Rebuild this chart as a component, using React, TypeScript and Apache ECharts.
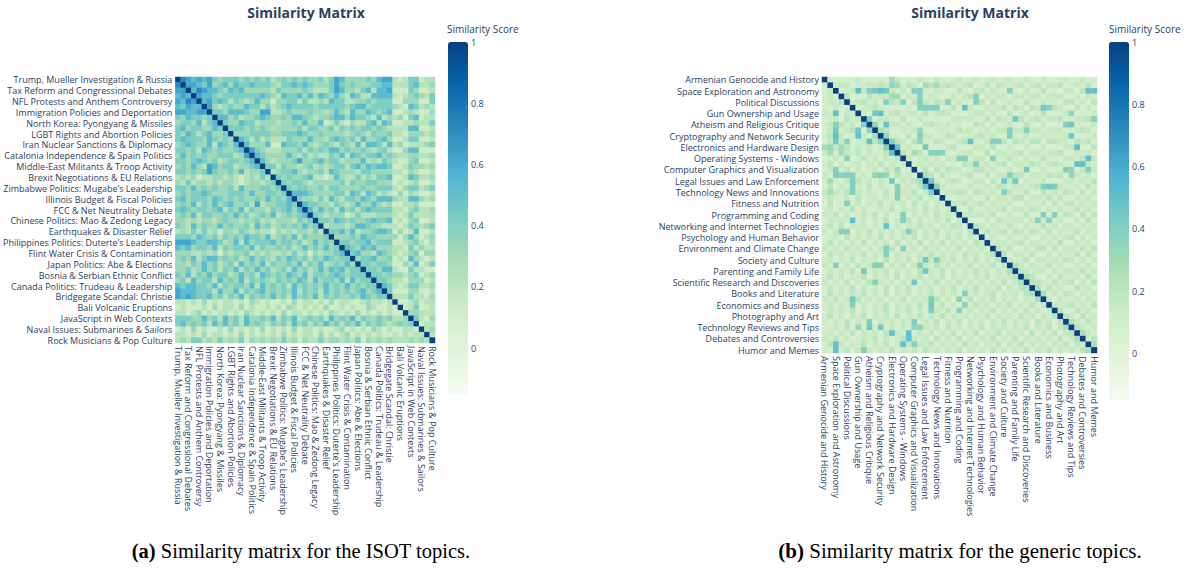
import React, { useEffect, useRef } from "react";
import * as echarts from "echarts";

// Labelled (even-index) topics; odd-index topics have hidden labels in the reference.
const isotShown = [
  "Trump, Mueller Investigation & Russia",
  "Tax Reform and Congressional Debates",
  "NFL Protests and Anthem Controversy",
  "Immigration Policies and Deportation",
  "North Korea: Pyongyang & Missiles",
  "LGBT Rights and Abortion Policies",
  "Iran Nuclear Sanctions & Diplomacy",
  "Catalonia Independence & Spain Politics",
  "Middle-East Militants & Troop Activity",
  "Brexit Negotiations & EU Relations",
  "Zimbabwe Politics: Mugabe\u2019s Leadership",
  "Illinois Budget & Fiscal Policies",
  "FCC & Net Neutrality Debate",
  "Chinese Politics: Mao & Zedong Legacy",
  "Earthquakes & Disaster Relief",
  "Philippines Politics: Duterte\u2019s Leadership",
  "Flint Water Crisis & Contamination",
  "Japan Politics: Abe & Elections",
  "Bosnia & Serbian Ethnic Conflict",
  "Canada Politics: Trudeau & Leadership",
  "Bridgegate Scandal: Christie",
  "Bali Volcanic Eruptions",
  "JavaScript in Web Contexts",
  "Naval Issues: Submarines & Sailors",
  "Rock Musicians & Pop Culture",
];
const genericShown = [
  "Armenian Genocide and History",
  "Space Exploration and Astronomy",
  "Political Discussions",
  "Gun Ownership and Usage",
  "Atheism and Religious Critique",
  "Cryptography and Network Security",
  "Electronics and Hardware Design",
  "Operating Systems - Windows",
  "Computer Graphics and Visualization",
  "Legal Issues and Law Enforcement",
  "Technology News and Innovations",
  "Fitness and Nutrition",
  "Programming and Coding",
  "Networking and Internet Technologies",
  "Psychology and Human Behavior",
  "Environment and Climate Change",
  "Society and Culture",
  "Parenting and Family Life",
  "Scientific Research and Discoveries",
  "Books and Literature",
  "Economics and Business",
  "Photography and Art",
  "Technology Reviews and Tips",
  "Debates and Controversies",
  "Humor and Memes",
];

// Lower triangle of the ISOT similarity matrix, row k+1; value = digit * 0.1 - 0.08
const isotRows = [
  "8",
  "77",
  "676",
  "7687",
  "65766",
  "776677",
  "5465545",
  "45546356",
  "564554465",
  "5465356445",
  "5655546545 4",
  "4565446365 46",
  "5545365454 456",
  "4645454455 5347",
  "5545654534 55456",
  "4546437645 534456",
  "5545457544 5463445",
  "3434233443 43234353",
  "4353443434 432344345",
  "5546454544 5364445545",
  "4545565444 5554644554 5",
  "5645554654 5454454645 46",
  "4546354645 6445373445 565",
  "5654554563 5463544354 5646",
  "4546355445 4645345463 45456",
  "4434344345 4434453434 443545",
  "5436454464 5445364534 5454645",
  "3435353424 4354343324 34344353",
  "5554654535 4546554634 546354445",
  "7776556653 4636455564 5545346454",
  "6564554635 4554635445 4534645464 5",
  "4443343424 3445343433 4353424344 56",
  "4546356645 4534645435 4654535465 455",
  "4435464534 5364546354 4546354634 5464",
  "4453464535 4635464534 5364534646 56455",
  "5463546455 3464536545 4654635545 654555",
  "4536455364 5463545435 4546536455 4636455",
  "6566554635 4554636454 5364545464 54645455",
  "7666555364 4635456454 5463545364 545456456",
  "7676556453 5463545464 5364546354 5445465455",
  "3323242323 3232432322 3242332324 2332234332 3",
  "2322232423 3242322323 2432323242 2323224322 32",
  "3323423233 2324323232 4233232324 3232423232 322",
  "5554464536 4536445463 5463454536 4546354454 5334",
  "5645453646 4536454354 5364535464 5354635454 34545",
  "2324232232 4232324232 3242332322 3423232432 322332",
  "3323242332 3242323232 4232332423 2342323232 2323233",
  "3435534353 4352434343 5342433534 4343524343 43334343",
];

// Lower triangle of the generic-topics similarity matrix, row k+1; value = digit * 0.05 - 0.04
const genericRows = [
  "3",
  "24",
  "342",
  "2435",
  "32423",
  "435243",
  "2342534",
  "34253426",
  "242345326",
  "3524232436",
  "2434523425 5",
  "3243524342 36",
  "4232435242 354",
  "2342423534 2435",
  "3524234243 52434",
  "2433524234 253423",
  "4242353424 3425342",
  "3432425342 43524356",
  "2524343252 432434257",
  "4243524343 2523435246",
  "3432425234 3425243524 3",
  "2523434243 5243425342 43",
  "3424352423 4352434253 424",
  "4352423435 2423524342 5343",
  "2434352424 3524352423 43524",
  "3525243424 3524243534 243542",
  "4243524352 4342435243 5243425",
  "2342524343 5242435243 42534243",
  "3524243524 3425243524 352434253",
  "4243534242 4352434253 4243524343",
  "2534243524 3524342435 2434253424 5",
  "3424352434 2524352434 2435243524 35",
  "4352425343 4243524342 5342435243 524",
  "2434352424 3524342524 3524243534 2436",
  "3524243524 3425243524 3524342435 24345",
  "4243524352 4342435243 5243524342 435246",
  "3424352434 2524352434 2435243524 3524355",
  "2534243524 3524342435 2434253424 52434256",
  "4352425343 4243524342 5342435243 524342436",
  "3424352424 3524342524 3524243534 2435243524",
  "2434352424 3524352423 4352434243 5243425342 4",
  "3524243524 3425243524 3524342435 2434253424 35",
  "4243524352 4342435243 5243524342 4352434253 425",
  "2342524343 5242435243 4253424352 4342435243 5246",
  "3424352434 2524352434 2435243524 3524342524 35245",
  "4352423435 2423524342 5343524243 5243524342 435246",
  "2534243524 3524342435 2434253424 3524352434 2435243",
  "3243524342 4352434253 4243524342 5342435243 52434256",
];

// Distinct higher similarities in the generic matrix: [row, col, value]
const genericPeaks: [number, number, number][] = [
  [6, 2, 0.5], [8, 2, 0.4], [8, 7, 0.4], [9, 2, 0.45], [9, 6, 0.45], [9, 8, 0.35],
  [10, 2, 0.5], [10, 6, 0.5], [11, 2, 0.45], [11, 4, 0.4], [11, 8, 0.5], [11, 10, 0.35],
  [12, 0, 0.3], [12, 1, 0.35], [12, 3, 0.3], [12, 11, 0.4], [13, 1, 0.3], [13, 3, 0.3],
  [13, 12, 0.5], [14, 4, 0.4], [16, 2, 0.4], [16, 13, 0.3], [17, 2, 0.4], [17, 3, 0.4],
  [17, 4, 0.4], [17, 5, 0.4], [17, 9, 0.35], [17, 10, 0.4], [17, 11, 0.35], [18, 1, 0.3],
  [18, 5, 0.4], [18, 12, 0.45], [19, 5, 0.4], [19, 13, 0.4], [19, 18, 0.45], [20, 1, 0.3],
  [20, 5, 0.4], [20, 13, 0.4], [20, 19, 0.4], [21, 13, 0.4], [22, 4, 0.4], [24, 14, 0.4],
  [25, 5, 0.5], [25, 14, 0.4], [26, 11, 0.5], [27, 3, 0.4], [27, 4, 0.4], [27, 15, 0.4],
  [30, 11, 0.4], [30, 14, 0.4], [31, 11, 0.4], [32, 18, 0.45], [32, 20, 0.4], [33, 2, 0.4],
  [33, 9, 0.4], [33, 10, 0.4], [33, 17, 0.4], [34, 7, 0.45], [34, 18, 0.45], [36, 9, 0.4],
  [36, 16, 0.45], [38, 25, 0.4], [39, 5, 0.45], [39, 19, 0.4], [39, 24, 0.4], [40, 5, 0.4],
  [40, 19, 0.45], [40, 25, 0.4], [41, 19, 0.4], [41, 24, 0.4], [43, 8, 0.4], [43, 16, 0.4],
  [44, 6, 0.35], [44, 8, 0.45], [44, 10, 0.45], [44, 16, 0.35], [44, 17, 0.35], [45, 12, 0.5],
  [45, 15, 0.5], [46, 15, 0.5], [47, 14, 0.5], [47, 2, 0.5], [47, 16, 0.4], [48, 2, 0.5],
  [48, 7, 0.4],
];

const colorTicks = [0, 0.2, 0.4, 0.6, 0.8, 1];
const scoreMin = -0.15;
const scoreMax = 1;
const GNBU = ["#f7fcf0", "#e0f3db", "#ccebc5", "#a8ddb5", "#7bccc4", "#4eb3d3", "#2b8cbe", "#0868ac", "#084081"];

const FONT = '"Open Sans", verdana, arial, sans-serif';
const SERIF = '"Liberation Serif", "DejaVu Serif", serif';
const INK = "#2a3f5f";

function interleave(shown: string[], prefix: string): string[] {
  const out: string[] = [];
  shown.forEach((t, k) => {
    out.push(t);
    if (k < shown.length - 1) out.push(`${prefix} ${2 * k + 1}`);
  });
  return out;
}

function buildData(rows: string[], unit: number, offset: number, peaks: [number, number, number][]) {
  const n = rows.length + 1;
  const m: number[][] = Array.from({ length: n }, () => new Array(n).fill(0));
  for (let i = 0; i < n; i++) m[i][i] = 1;
  rows.forEach((r, k) => {
    const s = r.replace(/\s+/g, "");
    const i = k + 1;
    for (let j = 0; j < i && j < s.length; j++) {
      const v = Math.round((Number(s[j]) * unit + offset) * 1000) / 1000;
      m[i][j] = v;
      m[j][i] = v;
    }
  });
  peaks.forEach(([i, j, v]) => {
    m[i][j] = v;
    m[j][i] = v;
  });
  const data: [number, number, number][] = [];
  for (let i = 0; i < n; i++) for (let j = 0; j < n; j++) data.push([j, i, m[i][j]]);
  return data;
}

function catAxis(names: string[], gridIndex: number, isY: boolean) {
  return {
    type: "category",
    gridIndex,
    data: names,
    inverse: isY,
    axisLine: { show: false },
    axisTick: { show: false },
    splitLine: { show: false },
    axisLabel: {
      interval: 1,
      rotate: isY ? 0 : -90,
      fontSize: 9,
      color: INK,
      fontFamily: FONT,
      margin: 3,
    },
  };
}

function barAxis(gridIndex: number) {
  return {
    type: "value",
    gridIndex,
    position: "right",
    min: scoreMin,
    max: scoreMax,
    interval: 0.05,
    axisLine: { show: false },
    axisTick: { show: false },
    splitLine: { show: false },
    axisLabel: {
      margin: 3,
      fontSize: 9,
      color: INK,
      fontFamily: FONT,
      formatter: (v: number) => {
        const r = Math.round(v * 100) / 100;
        return colorTicks.some((t) => Math.abs(t - r) < 1e-6) ? String(r) : "";
      },
    },
  };
}

export default function App() {
  const ref = useRef<HTMLDivElement>(null);
  useEffect(() => {
    if (!ref.current) return;
    const chart = echarts.init(ref.current, undefined, { renderer: "svg" });
    const isotTopics = interleave(isotShown, "ISOT topic");
    const genericTopics = interleave(genericShown, "Generic topic");
    const isotData = buildData(isotRows, 0.1, -0.08, []);
    const genericData = buildData(genericRows, 0.05, -0.04, genericPeaks);

    const title = (x: number, text: string) => ({
      type: "text",
      x,
      y: 12,
      style: { text, fill: INK, font: `bold 14px ${FONT}`, textAlign: "center", textVerticalAlign: "middle" },
    });
    const barTitle = (x: number) => ({
      type: "text",
      x,
      y: 29,
      style: { text: "Similarity Score", fill: INK, font: `10px ${FONT}`, textAlign: "left", textVerticalAlign: "middle" },
    });
    const caption = (x: number, size: number, tag: string, text: string) => ({
      type: "text",
      x,
      y: 551,
      style: {
        text: `{b|${tag}} ${text}`,
        fill: "#000",
        fontFamily: SERIF,
        fontSize: size,
        textAlign: "center",
        textVerticalAlign: "middle",
        rich: { b: { fontWeight: "bold", fontFamily: SERIF, fontSize: size, fill: "#000" } },
      },
    });

    chart.setOption({
      animation: false,
      backgroundColor: "#ffffff",
      grid: [
        { left: 169, top: 77, width: 266, height: 266 },
        { left: 822, top: 77, width: 275, height: 276 },
        { left: 448, top: 42, width: 20, height: 352 },
        { left: 1109, top: 42, width: 20, height: 358 },
      ],
      xAxis: [
        catAxis(isotTopics, 0, false),
        catAxis(genericTopics, 1, false),
        { type: "value", gridIndex: 2, show: false },
        { type: "value", gridIndex: 3, show: false },
      ],
      yAxis: [catAxis(isotTopics, 0, true), catAxis(genericTopics, 1, true), barAxis(2), barAxis(3)],
      visualMap: [
        {
          type: "continuous",
          seriesIndex: 0,
          min: scoreMin,
          max: scoreMax,
          left: 448,
          top: 42,
          itemWidth: 20,
          itemHeight: 352,
          padding: 0,
          calculable: false,
          hoverLink: false,
          inRange: { color: GNBU },
        },
        {
          type: "continuous",
          seriesIndex: 1,
          min: scoreMin,
          max: scoreMax,
          left: 1109,
          top: 42,
          itemWidth: 20,
          itemHeight: 358,
          padding: 0,
          calculable: false,
          hoverLink: false,
          inRange: { color: GNBU },
        },
      ],
      series: [
        { type: "heatmap", xAxisIndex: 0, yAxisIndex: 0, data: isotData, progressive: 0, emphasis: { disabled: true } },
        { type: "heatmap", xAxisIndex: 1, yAxisIndex: 1, data: genericData, progressive: 0, emphasis: { disabled: true } },
      ],
      graphic: [
        title(306, "Similarity Matrix"),
        title(970, "Similarity Matrix"),
        barTitle(447),
        barTitle(1109),
        caption(301, 20.5, "(a)", "Similarity matrix for the ISOT topics."),
        caption(960, 21, "(b)", "Similarity matrix for the generic topics."),
      ],
    });
    return () => chart.dispose();
  }, []);
  return <div ref={ref} style={{ position: "absolute", left: 0, top: 0, width: 1191, height: 568 }} />;
}
